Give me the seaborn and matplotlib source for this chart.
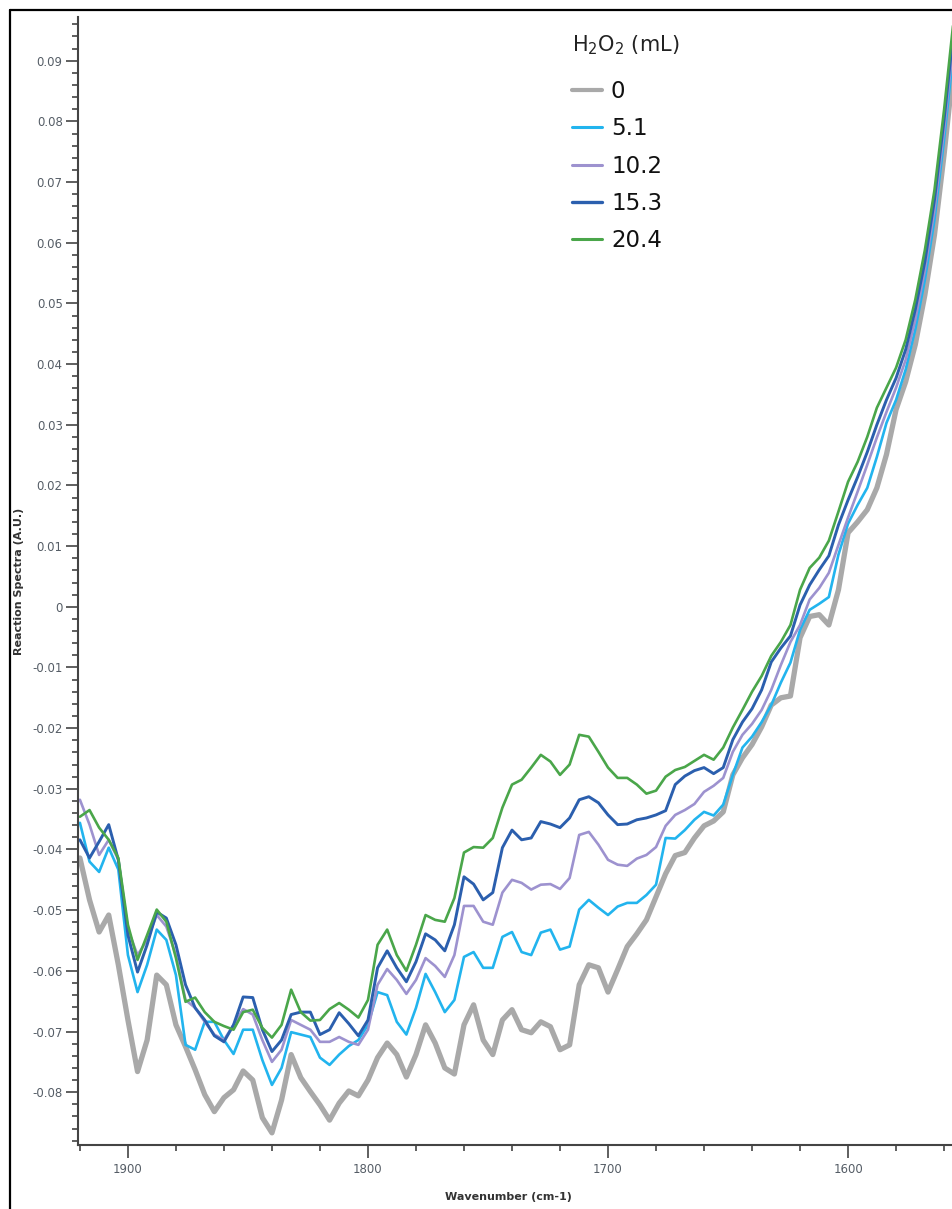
import numpy as np
import pandas as pd
import matplotlib
matplotlib.use("Agg")
import matplotlib.pyplot as plt
from matplotlib.ticker import MultipleLocator, FuncFormatter
from matplotlib.lines import Line2D
import seaborn as sns

sns.set_style("ticks")
plt.rcParams["font.family"] = ["DejaVu Sans"]

# Wavenumber grid (cm-1), 4 cm-1 steps
wavenumber = list(range(1920, 1548, -4))

h2o2_0 = [
    -0.0414, -0.0483, -0.0536, -0.0508, -0.0590, -0.0681, -0.0766, -0.0714, -0.0607, -0.0623,
    -0.0689, -0.0725, -0.0763, -0.0804, -0.0832, -0.0809, -0.0796, -0.0765, -0.0780, -0.0842,
    -0.0867, -0.0813, -0.0738, -0.0776, -0.0799, -0.0821, -0.0846, -0.0818, -0.0798, -0.0806,
    -0.0780, -0.0743, -0.0719, -0.0738, -0.0775, -0.0738, -0.0689, -0.0719, -0.0760, -0.0770,
    -0.0689, -0.0656, -0.0714, -0.0738, -0.0681, -0.0664, -0.0697, -0.0702, -0.0684, -0.0692,
    -0.0730, -0.0722, -0.0623, -0.0590, -0.0595, -0.0635, -0.0598, -0.0560, -0.0539, -0.0516,
    -0.0478, -0.0440, -0.0410, -0.0405, -0.0381, -0.0361, -0.0353, -0.0338, -0.0277, -0.0249,
    -0.0227, -0.0198, -0.0162, -0.0150, -0.0147, -0.0051, -0.0016, -0.0013, -0.0030, 0.0028,
    0.0122, 0.0140, 0.0160, 0.0196, 0.0251, 0.0325, 0.0371, 0.0432, 0.0514, 0.0613,
    0.0745, 0.0893, 0.1042,
]

h2o2_5_1 = [
    -0.0356, -0.0420, -0.0437, -0.0397, -0.0433, -0.0574, -0.0635, -0.0590, -0.0532, -0.0549,
    -0.0607, -0.0722, -0.0730, -0.0684, -0.0684, -0.0714, -0.0737, -0.0697, -0.0697, -0.0747,
    -0.0788, -0.0760, -0.0701, -0.0705, -0.0709, -0.0743, -0.0755, -0.0738, -0.0724, -0.0714,
    -0.0689, -0.0635, -0.0640, -0.0684, -0.0705, -0.0661, -0.0605, -0.0635, -0.0668, -0.0648,
    -0.0577, -0.0569, -0.0595, -0.0595, -0.0544, -0.0536, -0.0569, -0.0574, -0.0537, -0.0532,
    -0.0565, -0.0560, -0.0499, -0.0483, -0.0496, -0.0508, -0.0494, -0.0488, -0.0488, -0.0475,
    -0.0458, -0.0381, -0.0382, -0.0368, -0.0351, -0.0338, -0.0344, -0.0326, -0.0277, -0.0232,
    -0.0214, -0.0190, -0.0162, -0.0125, -0.0092, -0.0038, -0.0005, 0.0005, 0.0016, 0.0086,
    0.0137, 0.0168, 0.0196, 0.0247, 0.0303, 0.0341, 0.0391, 0.0457, 0.0539, 0.0638,
    0.0770, 0.0918, 0.1066,
]

h2o2_10_2 = [
    -0.0318, -0.0359, -0.0409, -0.0384, -0.0417, -0.0532, -0.0574, -0.0549, -0.0508, -0.0527,
    -0.0574, -0.0648, -0.0661, -0.0684, -0.0705, -0.0714, -0.0689, -0.0663, -0.0672, -0.0714,
    -0.0750, -0.0730, -0.0681, -0.0689, -0.0697, -0.0717, -0.0717, -0.0709, -0.0717, -0.0722,
    -0.0697, -0.0623, -0.0597, -0.0615, -0.0638, -0.0615, -0.0579, -0.0592, -0.0610, -0.0574,
    -0.0493, -0.0493, -0.0519, -0.0524, -0.0471, -0.0450, -0.0455, -0.0466, -0.0458, -0.0457,
    -0.0465, -0.0447, -0.0376, -0.0371, -0.0392, -0.0417, -0.0425, -0.0427, -0.0415, -0.0409,
    -0.0396, -0.0361, -0.0343, -0.0335, -0.0325, -0.0305, -0.0295, -0.0282, -0.0239, -0.0211,
    -0.0193, -0.0170, -0.0137, -0.0096, -0.0058, -0.0030, 0.0012, 0.0031, 0.0056, 0.0102,
    0.0147, 0.0190, 0.0234, 0.0279, 0.0321, 0.0361, 0.0407, 0.0473, 0.0555, 0.0654,
    0.0786, 0.0935, 0.1083,
]

h2o2_15_3 = [
    -0.0384, -0.0414, -0.0387, -0.0359, -0.0417, -0.0541, -0.0602, -0.0557, -0.0503, -0.0513,
    -0.0557, -0.0623, -0.0661, -0.0681, -0.0707, -0.0717, -0.0689, -0.0643, -0.0644, -0.0697,
    -0.0733, -0.0714, -0.0672, -0.0668, -0.0668, -0.0705, -0.0697, -0.0669, -0.0687, -0.0707,
    -0.0681, -0.0595, -0.0567, -0.0595, -0.0618, -0.0585, -0.0539, -0.0549, -0.0567, -0.0524,
    -0.0445, -0.0457, -0.0483, -0.0471, -0.0397, -0.0368, -0.0384, -0.0381, -0.0354, -0.0358,
    -0.0364, -0.0348, -0.0318, -0.0313, -0.0323, -0.0343, -0.0359, -0.0358, -0.0351, -0.0348,
    -0.0343, -0.0336, -0.0293, -0.0279, -0.0270, -0.0265, -0.0275, -0.0265, -0.0219, -0.0190,
    -0.0168, -0.0137, -0.0091, -0.0068, -0.0048, 0.0003, 0.0036, 0.0061, 0.0084, 0.0135,
    0.0176, 0.0214, 0.0255, 0.0300, 0.0341, 0.0377, 0.0424, 0.0490, 0.0569, 0.0671,
    0.0803, 0.0951, 0.1099,
]

h2o2_20_4 = [
    -0.0346, -0.0335, -0.0364, -0.0384, -0.0414, -0.0524, -0.0582, -0.0541, -0.0499, -0.0519,
    -0.0579, -0.0651, -0.0644, -0.0668, -0.0684, -0.0691, -0.0697, -0.0668, -0.0664, -0.0694,
    -0.0710, -0.0689, -0.0631, -0.0668, -0.0682, -0.0681, -0.0663, -0.0653, -0.0664, -0.0677,
    -0.0648, -0.0557, -0.0532, -0.0574, -0.0600, -0.0557, -0.0508, -0.0516, -0.0519, -0.0480,
    -0.0405, -0.0396, -0.0397, -0.0381, -0.0331, -0.0293, -0.0285, -0.0265, -0.0244, -0.0255,
    -0.0277, -0.0260, -0.0211, -0.0214, -0.0239, -0.0265, -0.0282, -0.0282, -0.0293, -0.0308,
    -0.0303, -0.0280, -0.0269, -0.0264, -0.0254, -0.0244, -0.0252, -0.0232, -0.0199, -0.0170,
    -0.0140, -0.0114, -0.0081, -0.0058, -0.0030, 0.0028, 0.0064, 0.0081, 0.0109, 0.0157,
    0.0206, 0.0239, 0.0280, 0.0328, 0.0361, 0.0394, 0.0440, 0.0506, 0.0588, 0.0687,
    0.0819, 0.0968, 0.1116,
]

series_labels = ["0", "5.1", "10.2", "15.3", "20.4"]
series_values = [h2o2_0, h2o2_5_1, h2o2_10_2, h2o2_15_3, h2o2_20_4]
colors = ["#a9a9a9", "#22b4ee", "#9d92cf", "#2b5fae", "#4aa64a"]
widths = [3.8, 1.9, 1.9, 2.1, 1.9]

frames = []
for lab, vals in zip(series_labels, series_values):
    frames.append(pd.DataFrame({"Wavenumber": wavenumber, "Absorbance": vals, "H2O2": lab}))
df = pd.concat(frames, ignore_index=True)

W, H = 952, 1209
fig = plt.figure(figsize=(W / 100, H / 100), dpi=100)
ax_left, ax_right, ax_top, ax_bottom = 78, 952, 17, 1145
ax = fig.add_axes([ax_left / W, 1 - ax_bottom / H, (ax_right - ax_left) / W, (ax_bottom - ax_top) / H])

for lab, col, lw in zip(series_labels, colors, widths):
    sub = df[df["H2O2"] == lab]
    sns.lineplot(data=sub, x="Wavenumber", y="Absorbance", ax=ax, color=col,
                 linewidth=lw, label=lab, sort=False, estimator=None)

ax.set_xlim(1920.8, 1556.7)
ax.set_ylim(-0.0887, 0.0972)

ax.xaxis.set_major_locator(MultipleLocator(100))
ax.xaxis.set_minor_locator(MultipleLocator(20))
ax.yaxis.set_major_locator(MultipleLocator(0.01))
ax.yaxis.set_minor_locator(MultipleLocator(0.002))

def yfmt(v, pos):
    if abs(v) < 1e-9:
        return "0"
    return f"{v:.2f}"

ax.yaxis.set_major_formatter(FuncFormatter(yfmt))

tick_col = "#555d66"
ax.tick_params(axis="both", which="major", length=9, width=1.2, color="#444444",
               labelsize=8.5, labelcolor=tick_col, pad=2)
ax.tick_params(axis="both", which="minor", length=4.5, width=1.2, color="#444444")
ax.tick_params(axis="x", which="major", pad=4)

for s in ["top", "right"]:
    ax.spines[s].set_visible(False)
for s in ["left", "bottom"]:
    ax.spines[s].set_color("#444444")
    ax.spines[s].set_linewidth(1.5)

ax.set_xlabel("Wavenumber (cm-1)", fontsize=8, fontweight="bold", color="#333333")
ax.set_ylabel("Reaction Spectra (A.U.)", fontsize=8, fontweight="bold", color="#333333")
ax.xaxis.set_label_coords((508 - ax_left) / (ax_right - ax_left), (ax_bottom - 1192) / (ax_bottom - ax_top))
ax.yaxis.set_label_coords((24 - ax_left) / (ax_right - ax_left), 0.5)

leg = ax.legend(title="H$_2$O$_2$ (mL)", loc="upper left",
                bbox_to_anchor=(572 / W, 1 - 33 / H), bbox_transform=fig.transFigure,
                frameon=False, fontsize=16.5, title_fontsize=15, handlelength=1.3,
                handletextpad=0.4, labelspacing=0.62, borderpad=0, borderaxespad=0,
                alignment="left")
# larger gap between legend title and its entries
leg._legend_box.sep = 17
for t in leg.get_texts():
    t.set_color("#111111")
leg.get_title().set_color("#222222")
for h, lw in zip(leg.legend_handles, [3.0, 2.2, 2.2, 2.4, 2.2]):
    h.set_linewidth(lw)

# outer frame of the screenshot
fig.add_artist(Line2D([10 / W, 10 / W], [0, 1 - 10 / H], transform=fig.transFigure, color="black", lw=1.6))
fig.add_artist(Line2D([10 / W, 1], [1 - 10 / H, 1 - 10 / H], transform=fig.transFigure, color="black", lw=1.6))

fig.savefig("out.png", dpi=100, facecolor="white")
